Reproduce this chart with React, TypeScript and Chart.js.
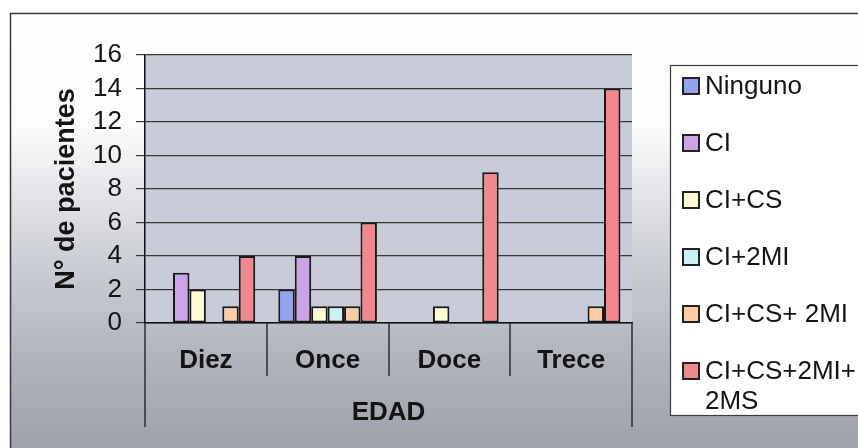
import React, { useEffect, useRef } from "react";
import { Chart, registerables } from "chart.js";

Chart.register(...registerables);

// Age groups and number of patients per dental-eruption combination
const categories = ["Diez", "Once", "Doce", "Trece"];
const seriesNames = ["Ninguno", "CI", "CI+CS", "CI+2MI", "CI+CS+ 2MI", "CI+CS+2MI+2MS"];
const ninguno = [0, 2, 0, 0];
const ci = [3, 4, 0, 0];
const ciCs = [2, 1, 1, 0];
const ci2mi = [0, 1, 0, 0];
const ciCs2mi = [1, 1, 0, 1];
const ciCs2mi2ms = [4, 6, 9, 14];
const seriesColors = ["#93a3ee", "#c9a5e8", "#fffad6", "#cbf1f7", "#fbcca8", "#f3878f"];
const yMin = 0;
const yMax = 16;
const yStep = 2;
const yTitle = "N° de pacientes";
const xTitle = "EDAD";

const W = 858;
const H = 448;
const FONT = "'Liberation Sans', Arial, Helvetica, sans-serif";
const INK = "#141414";
const LINE = "#2c2c2c";

const frameBackground = {
  id: "frameBackground",
  beforeDraw(chart: any) {
    const { ctx, chartArea } = chart;
    ctx.save();
    ctx.fillStyle = "#ffffff";
    ctx.fillRect(0, 0, W, H);
    const g = ctx.createLinearGradient(0, 13, 0, H);
    g.addColorStop(0, "#ffffff");
    g.addColorStop(0.27, "#fafafb");
    g.addColorStop(0.55, "#cfd1d8");
    g.addColorStop(0.78, "#b2b5be");
    g.addColorStop(1, "#9fa2ab");
    ctx.fillStyle = g;
    ctx.fillRect(10, 13, W - 10, H - 13);
    // outer frame
    ctx.strokeStyle = "#3a3a3a";
    ctx.lineWidth = 1.5;
    ctx.beginPath();
    ctx.moveTo(10.5, H);
    ctx.lineTo(10.5, 13.5);
    ctx.lineTo(W, 13.5);
    ctx.stroke();
    // plot area
    ctx.fillStyle = "#c8cbd8";
    ctx.fillRect(chartArea.left, chartArea.top, chartArea.right - chartArea.left, chartArea.bottom - chartArea.top);
    ctx.restore();
  },
};

const categoryFrame = {
  id: "categoryFrame",
  afterDraw(chart: any) {
    const { ctx, chartArea } = chart;
    const n = chart.data.labels.length;
    const step = (chartArea.right - chartArea.left) / n;
    ctx.save();
    ctx.strokeStyle = LINE;
    ctx.lineWidth = 1.5;
    for (let k = 0; k <= n; k++) {
      const x = Math.round(chartArea.left + k * step);
      const outer = k === 0 || k === n;
      ctx.beginPath();
      ctx.moveTo(x, chartArea.bottom);
      ctx.lineTo(x, outer ? 427 : 376);
      ctx.stroke();
    }
    ctx.restore();
  },
};

function wrapText(ctx: CanvasRenderingContext2D, text: string, maxWidth: number): string[] {
  if (ctx.measureText(text).width <= maxWidth) return [text];
  for (let i = text.length - 1; i > 0; i--) {
    if (text[i - 1] === "+" || text[i - 1] === " ") {
      const head = text.slice(0, i).trimEnd();
      if (ctx.measureText(head).width <= maxWidth) {
        return [head, ...wrapText(ctx, text.slice(i).trimStart(), maxWidth)];
      }
    }
  }
  return [text];
}

const boxLegend = {
  id: "boxLegend",
  afterDraw(chart: any) {
    const { ctx } = chart;
    const left = 670;
    const top = 65;
    ctx.save();
    ctx.fillStyle = "#ffffff";
    ctx.fillRect(left, top, W - left + 4, 350);
    ctx.strokeStyle = "#3c3c3c";
    ctx.lineWidth = 1.2;
    ctx.strokeRect(left + 0.5, top + 0.5, W - left + 4, 350);
    ctx.font = `26px ${FONT}`;
    ctx.textBaseline = "middle";
    ctx.textAlign = "left";
    let y = 86;
    chart.data.datasets.forEach((ds: any) => {
      ctx.fillStyle = ds.backgroundColor;
      ctx.fillRect(682, y - 9, 18, 18);
      ctx.strokeStyle = "#222";
      ctx.lineWidth = 2;
      ctx.strokeRect(683, y - 8, 16, 16);
      ctx.fillStyle = INK;
      const lines = wrapText(ctx, ds.label, 156);
      lines.forEach((ln, i) => ctx.fillText(ln, 705, y + 1 + i * 30));
      y += 57;
    });
    ctx.restore();
  },
};

export default function App() {
  const ref = useRef<HTMLCanvasElement | null>(null);

  useEffect(() => {
    if (!ref.current) return;
    const values = [ninguno, ci, ciCs, ci2mi, ciCs2mi, ciCs2mi2ms];
    const chart = new Chart(ref.current, {
      type: "bar",
      data: {
        labels: categories,
        datasets: seriesNames.map((name, i) => ({
          label: name,
          data: values[i],
          backgroundColor: seriesColors[i],
          borderColor: "#1a1a1a",
          borderWidth: 2,
          borderSkipped: false,
          categoryPercentage: 0.81,
          barPercentage: 1,
        })),
      },
      options: {
        responsive: false,
        animation: false,
        devicePixelRatio: 1,
        layout: { padding: { left: 10, top: 55, right: W - 632, bottom: 0 } },
        plugins: {
          legend: { display: false },
          tooltip: { enabled: false },
        },
        scales: {
          x: {
            afterFit: (s: any) => {
              s.height = H - 323;
            },
            grid: { display: false, drawTicks: false },
            border: { display: true, color: "#111", width: 1.5 },
            ticks: {
              padding: 22,
              color: INK,
              font: { family: FONT, size: 26, weight: "bold" },
            },
            title: {
              display: true,
              text: xTitle,
              color: INK,
              font: { family: FONT, size: 26, weight: "bold" },
              padding: { top: 0, bottom: 20 },
            },
          },
          y: {
            min: yMin,
            max: yMax,
            afterFit: (s: any) => {
              s.width = 135;
            },
            grid: {
              color: "#383838",
              lineWidth: 1.2,
              drawTicks: true,
              tickLength: 9,
            },
            border: { display: true, color: "#111", width: 1.5 },
            ticks: {
              stepSize: yStep,
              autoSkip: false,
              padding: 14,
              color: INK,
              font: { family: FONT, size: 26 },
            },
            title: {
              display: true,
              text: yTitle,
              color: INK,
              font: { family: FONT, size: 27, weight: "bold" },
              padding: { top: 40, bottom: 0 },
            },
          },
        },
      },
      plugins: [frameBackground, categoryFrame, boxLegend],
    });
    return () => chart.destroy();
  }, []);

  return (
    <div style={{ position: "absolute", left: 0, top: 0, width: W, height: H }}>
      <canvas ref={ref} width={W} height={H} style={{ display: "block", width: W, height: H }} />
    </div>
  );
}
